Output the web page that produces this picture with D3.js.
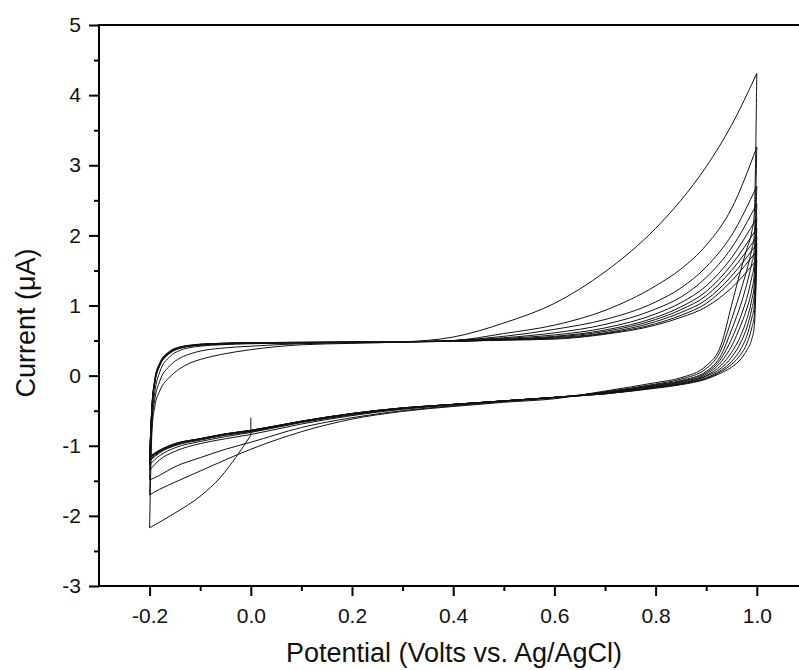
<!DOCTYPE html>
<html>
<head>
<meta charset="utf-8">
<script src="https://cdn.jsdelivr.net/npm/d3@7/dist/d3.min.js"></script>
<style>
  html, body { margin: 0; padding: 0; background: #fff; }
  svg { display: block; }
  text { font-family: "Liberation Sans", Arial, sans-serif; fill: #111; }
</style>
</head>
<body>
<svg id="chart" width="799" height="670"></svg>
<script>
// ---------------- data ----------------
const xMajorTicks = [-0.2, 0.0, 0.2, 0.4, 0.6, 0.8, 1.0];
const xMinorTicks = [-0.1, 0.1, 0.3, 0.5, 0.7, 0.9];
const yMajorTicks = [-3, -2, -1, 0, 1, 2, 3, 4, 5];
const yMinorTicks = [-2.5, -1.5, -0.5, 0.5, 1.5, 2.5, 3.5, 4.5];

// initial step at 0.0 V, then sweep 0.0 V -> -0.2 V
const initStepCurrent = [-0.6, -0.85];
const initPotential = [-0.2, -0.15, -0.1, -0.06, -0.03, 0.0];
const initCurrent   = [-2.17, -1.96, -1.72, -1.45, -1.17, -0.85];

// anodic (forward) sweep potentials, V
const fwdPotential = [-0.2, -0.195, -0.19, -0.18, -0.16, -0.14, -0.12, -0.1, -0.06, 0.0, 0.1, 0.2, 0.3, 0.4, 0.5, 0.6, 0.7, 0.8, 0.85, 0.9, 0.95, 1.0];
// forward currents per cycle, µA
const fwdCurrent = [
  [-2.17, -0.75, -0.45, -0.22, -0.02, 0.10, 0.18, 0.23, 0.30, 0.37, 0.44, 0.46, 0.48, 0.55, 0.75, 1.03, 1.48, 2.10, 2.50, 2.98, 3.57, 4.31],
  [-1.70, -0.65, -0.35, -0.08, 0.14, 0.25, 0.31, 0.35, 0.39, 0.42, 0.455, 0.47, 0.48, 0.50, 0.60, 0.72, 0.93, 1.28, 1.52, 1.86, 2.38, 3.26],
  [-1.49, -0.60, -0.25, 0.05, 0.27, 0.36, 0.40, 0.42, 0.44, 0.455, 0.465, 0.47, 0.48, 0.50, 0.56, 0.66, 0.80, 1.05, 1.25, 1.55, 2.00, 2.70],
  [-1.35, -0.45, -0.12, 0.14, 0.32, 0.39, 0.42, 0.435, 0.45, 0.46, 0.47, 0.475, 0.48, 0.50, 0.54, 0.61, 0.73, 0.95, 1.12, 1.40, 1.82, 2.45],
  [-1.27, -0.45, -0.12, 0.14, 0.32, 0.39, 0.42, 0.435, 0.45, 0.46, 0.47, 0.475, 0.48, 0.50, 0.53, 0.58, 0.68, 0.88, 1.04, 1.28, 1.68, 2.25],
  [-1.22, -0.42, -0.10, 0.16, 0.33, 0.40, 0.425, 0.44, 0.455, 0.465, 0.47, 0.475, 0.48, 0.49, 0.52, 0.56, 0.65, 0.83, 0.98, 1.20, 1.58, 2.10],
  [-1.20, -0.42, -0.10, 0.16, 0.33, 0.40, 0.425, 0.44, 0.455, 0.465, 0.47, 0.475, 0.48, 0.49, 0.515, 0.55, 0.63, 0.80, 0.94, 1.14, 1.50, 1.98],
  [-1.18, -0.40, -0.08, 0.17, 0.34, 0.405, 0.43, 0.445, 0.46, 0.47, 0.475, 0.48, 0.485, 0.49, 0.51, 0.54, 0.61, 0.77, 0.90, 1.08, 1.42, 1.88],
  [-1.17, -0.40, -0.08, 0.17, 0.34, 0.405, 0.43, 0.445, 0.46, 0.47, 0.475, 0.48, 0.485, 0.49, 0.51, 0.53, 0.60, 0.74, 0.86, 1.03, 1.35, 1.78],
  [-1.16, -0.38, -0.06, 0.18, 0.35, 0.41, 0.435, 0.45, 0.46, 0.47, 0.475, 0.48, 0.485, 0.49, 0.505, 0.52, 0.59, 0.72, 0.83, 0.98, 1.25, 1.65]
];

// cathodic (reverse) sweep potentials, V
const revPotential = [1.0, 0.995, 0.99, 0.98, 0.97, 0.95, 0.93, 0.9, 0.85, 0.8, 0.7, 0.6, 0.5, 0.4, 0.3, 0.2, 0.1, 0.0, -0.05, -0.1, -0.15, -0.18, -0.2];
const revCurrent = [
  [4.31, 2.30, 2.05, 1.80, 1.55, 1.00, 0.45, 0.14, -0.03, -0.10, -0.22, -0.33, -0.38, -0.44, -0.51, -0.62, -0.80, -1.05, -1.20, -1.36, -1.52, -1.62, -1.70],
  [3.26, 2.00, 1.80, 1.50, 1.25, 0.80, 0.38, 0.10, -0.05, -0.12, -0.23, -0.32, -0.37, -0.43, -0.50, -0.60, -0.74, -0.95, -1.05, -1.17, -1.30, -1.42, -1.49],
  [2.70, 1.80, 1.60, 1.30, 1.05, 0.65, 0.30, 0.06, -0.07, -0.13, -0.24, -0.31, -0.36, -0.42, -0.48, -0.57, -0.69, -0.84, -0.90, -0.97, -1.08, -1.20, -1.35],
  [2.45, 1.60, 1.40, 1.10, 0.88, 0.52, 0.25, 0.04, -0.08, -0.14, -0.24, -0.31, -0.36, -0.41, -0.47, -0.56, -0.67, -0.81, -0.87, -0.94, -1.03, -1.14, -1.27],
  [2.25, 1.45, 1.22, 0.95, 0.75, 0.42, 0.20, 0.02, -0.09, -0.15, -0.25, -0.31, -0.36, -0.41, -0.47, -0.55, -0.66, -0.80, -0.85, -0.92, -1.00, -1.10, -1.22],
  [2.10, 1.30, 1.08, 0.80, 0.60, 0.33, 0.15, 0.00, -0.10, -0.15, -0.25, -0.31, -0.36, -0.41, -0.47, -0.55, -0.66, -0.79, -0.84, -0.91, -0.99, -1.09, -1.20],
  [1.98, 1.15, 0.95, 0.68, 0.50, 0.26, 0.11, -0.01, -0.11, -0.16, -0.25, -0.31, -0.36, -0.41, -0.46, -0.54, -0.65, -0.79, -0.84, -0.90, -0.98, -1.08, -1.18],
  [1.88, 1.00, 0.82, 0.56, 0.40, 0.20, 0.08, -0.03, -0.12, -0.17, -0.26, -0.31, -0.36, -0.41, -0.46, -0.54, -0.65, -0.78, -0.83, -0.90, -0.98, -1.07, -1.17],
  [1.78, 0.85, 0.68, 0.45, 0.32, 0.16, 0.06, -0.04, -0.12, -0.17, -0.26, -0.31, -0.36, -0.41, -0.46, -0.54, -0.65, -0.78, -0.83, -0.90, -0.97, -1.07, -1.16],
  [1.65, 0.70, 0.52, 0.36, 0.25, 0.12, 0.04, -0.05, -0.13, -0.18, -0.26, -0.31, -0.36, -0.41, -0.46, -0.54, -0.65, -0.78, -0.83, -0.90, -0.97, -1.06, -1.15]
];

const xTitle = "Potential (Volts vs. Ag/AgCl)";
const yTitle = "Current (\u03BCA)";

// ---------------- drawing ----------------
const svg = d3.select("#chart");
const plot = { left: 99, top: 25, right: 807.4, bottom: 586 };

const x = d3.scaleLinear().domain([-0.3, 1.1]).range([plot.left, plot.right]);
const y = d3.scaleLinear().domain([-3, 5]).range([plot.bottom, plot.top]);

svg.append("rect").attr("width", 799).attr("height", 670).attr("fill", "#fff");

const curves = svg.append("g")
  .attr("fill", "none")
  .attr("stroke", "#111")
  .attr("stroke-width", 1)
  .attr("stroke-linejoin", "round");

const lineMono = d3.line().x(d => x(d[0])).y(d => y(d[1])).curve(d3.curveMonotoneX);
const lineLin = d3.line().x(d => x(d[0])).y(d => y(d[1]));

curves.append("path").attr("d", lineLin(initStepCurrent.map(c => [initPotential[initPotential.length - 1], c])));
curves.append("path").attr("d", lineMono(initPotential.map((e, i) => [e, initCurrent[i]])));

fwdCurrent.forEach(arr => {
  curves.append("path").attr("d", lineMono(fwdPotential.map((e, i) => [e, arr[i]])));
});
revCurrent.forEach(arr => {
  const pts = revPotential.map((e, i) => [e, arr[i]]).sort((a, b) => a[0] - b[0]);
  curves.append("path").attr("d", lineMono(pts));
});

// frame
svg.append("rect")
  .attr("x", plot.left).attr("y", plot.top)
  .attr("width", plot.right - plot.left).attr("height", plot.bottom - plot.top)
  .attr("fill", "none").attr("stroke", "#000").attr("stroke-width", 2);

// axes
function styleAxis(g) {
  g.select(".domain").remove();
  g.selectAll(".tick line").attr("stroke", "#000").attr("stroke-width", 2);
  g.selectAll(".tick text").style("font-size", "21px").attr("fill", "#111");
}

svg.append("g").attr("transform", `translate(0,${plot.bottom})`)
  .call(d3.axisBottom(x).tickValues(xMinorTicks).tickSize(5).tickFormat(""))
  .call(styleAxis);
svg.append("g").attr("transform", `translate(0,${plot.bottom})`)
  .call(d3.axisBottom(x).tickValues(xMajorTicks).tickSize(10).tickPadding(12).tickFormat(d => d.toFixed(1)))
  .call(styleAxis);

svg.append("g").attr("transform", `translate(${plot.left},0)`)
  .call(d3.axisLeft(y).tickValues(yMinorTicks).tickSize(5).tickFormat(""))
  .call(styleAxis);
svg.append("g").attr("transform", `translate(${plot.left},0)`)
  .call(d3.axisLeft(y).tickValues(yMajorTicks).tickSize(10).tickPadding(8).tickFormat(d => String(d)))
  .call(styleAxis);

// titles
svg.append("text")
  .attr("x", 454).attr("y", 662)
  .attr("text-anchor", "middle")
  .style("font-size", "27px")
  .text(xTitle);

svg.append("text")
  .attr("transform", "translate(35,323) rotate(-90)")
  .attr("text-anchor", "middle")
  .style("font-size", "27px")
  .text(yTitle);
</script>
</body>
</html>
